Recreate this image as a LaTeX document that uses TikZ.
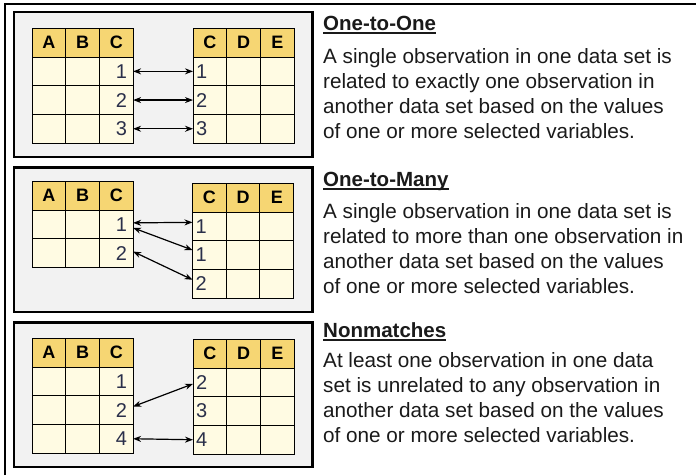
\documentclass[tikz,border=0pt]{standalone}
\usepackage{fontspec}
\setmainfont{Liberation Sans}
\usetikzlibrary{arrows.meta}
\definecolor{hdrfill}{HTML}{F6D673}
\definecolor{cellfill}{HTML}{FFFBE3}
\definecolor{panelfill}{HTML}{F2F2F2}
\definecolor{numcol}{HTML}{2A2F4A}
\definecolor{txtcol}{HTML}{1A1A1A}
\def\cw{33.7}
\def\hh{29}
\def\rh{28.7}
\tikzset{
  hdr/.style={rectangle, draw=black, line width=0.9pt, fill=hdrfill, anchor=north west,
    outer sep=0pt, inner sep=0pt, minimum width=\cw pt, minimum height=\hh pt,
    font=\fontsize{18}{18}\selectfont\bfseries},
  cellbox/.style={rectangle, draw=black, line width=0.9pt, fill=cellfill, anchor=north west,
    outer sep=0pt, inner xsep=3pt, inner ysep=0pt, text width={\cw pt-6pt}, minimum height=\rh pt,
    font=\fontsize{20}{20}\selectfont, text=numcol},
  numleft/.style={inner xsep=6pt, text width={\cw pt-12pt}, align=right},
  numright/.style={inner xsep=3pt, text width={\cw pt-6pt}, align=left},
  panel/.style={draw=black, line width=2.4pt, fill=panelfill},
  link/.style={draw=black, line width=1.2pt, {Stealth[length=8pt,width=6pt]}-{Stealth[length=8pt,width=6pt]}},
  ttl/.style={anchor=base west, inner sep=0pt, font=\fontsize{20.5}{25}\selectfont\bfseries, text=txtcol},
  body/.style={anchor=base west, inner sep=0pt, font=\fontsize{20.7}{25}\selectfont, text=txtcol},
  uline/.style={draw=txtcol, line width=1.6pt}
}
\newcommand{\lefttbl}[4]{%
  \foreach \h [count=\i] in {A,B,C}
    \node[hdr] (#1-h\i) at ({#2+(\i-1)*\cw},#3) {\h};
  \foreach \v [count=\j] in {#4} {
    \node[cellbox] (#1-\j-1) at (#2, {#3+\hh+(\j-1)*\rh}) {};
    \node[cellbox] (#1-\j-2) at ({#2+\cw}, {#3+\hh+(\j-1)*\rh}) {};
    \node[cellbox, numleft] (#1-\j-3) at ({#2+2*\cw}, {#3+\hh+(\j-1)*\rh}) {\v};
  }
}
\newcommand{\righttbl}[4]{%
  \foreach \h [count=\i] in {C,D,E}
    \node[hdr] (#1-h\i) at ({#2+(\i-1)*\cw},#3) {\h};
  \foreach \v [count=\j] in {#4} {
    \node[cellbox, numright] (#1-\j-1) at (#2, {#3+\hh+(\j-1)*\rh}) {\v};
    \node[cellbox] (#1-\j-2) at ({#2+\cw}, {#3+\hh+(\j-1)*\rh}) {};
    \node[cellbox] (#1-\j-3) at ({#2+2*\cw}, {#3+\hh+(\j-1)*\rh}) {};
  }
}
\begin{document}
\begin{tikzpicture}[x=1pt,y=-1pt]
\useasboundingbox (0,0) rectangle (696,475);
\fill[white] (0,0) rectangle (696,475);
% outer frame
\draw[line width=2pt] (4.5,475) -- (4.5,3.5) -- (696,3.5);
% panels
\draw[panel] (14,12) rectangle (312.5,157);
\draw[panel] (14,167.5) rectangle (312.5,312);
\draw[panel] (14,322.5) rectangle (312.5,467);

% ---- panel 1: one-to-one
\lefttbl{pa}{32}{28}{1,2,3}
\righttbl{pb}{193}{28}{1,2,3}
\foreach \k in {1,2,3}
  \draw[link] (pa-\k-3.east) -- (pb-\k-1.west);

% ---- panel 2: one-to-many
\lefttbl{qa}{32}{181}{1,2}
\righttbl{qb}{192.5}{183}{1,1,2}
\draw[link] ([yshift=1.5pt]qa-1-3.east) -- ([yshift=4pt]qb-1-1.west);
\draw[link] ([yshift=-3.5pt]qa-1-3.east) -- ([yshift=5pt]qb-2-1.west);
\draw[link] ([yshift=1.5pt]qa-2-3.east) -- ([yshift=4pt]qb-3-1.west);

% ---- panel 3: nonmatches
\lefttbl{ra}{32}{338}{1,2,4}
\righttbl{rb}{193}{339}{2,3,4}
\draw[link] ([yshift=3.5pt]ra-2-3.east) -- ([yshift=-1.5pt]rb-1-1.west);
\draw[link] (ra-3-3.east) -- (rb-3-1.west);

% ---- texts
\node[ttl] (t1) at (323,30) {One-to-One};
\draw[uline] ([yshift=-3pt]t1.base west) -- ([yshift=-3pt]t1.base east);
\node[body] (t1a) at (323,63) {A single observation in one data set is};
\node[body] (t1b) at (323,88) {related to exactly one observation in};
\node[body] (t1c) at (323,113) {another data set based on the values};
\node[body] (t1d) at (323,138) {of one or more selected variables.};

\node[ttl] (t2) at (323,186) {One-to-Many};
\draw[uline] ([yshift=-3pt]t2.base west) -- ([yshift=-3pt]t2.base east);
\node[body] (t2a) at (323,218) {A single observation in one data set is};
\node[body] (t2b) at (323,243) {related to more than one observation in};
\node[body] (t2c) at (323,268) {another data set based on the values};
\node[body] (t2d) at (323,293) {of one or more selected variables.};

\node[ttl] (t3) at (323,337) {Nonmatches};
\draw[uline] ([yshift=-3pt]t3.base west) -- ([yshift=-3pt]t3.base east);
\node[body] (t3a) at (323,367) {At least one observation in one data};
\node[body] (t3b) at (323,392) {set is unrelated to any observation in};
\node[body] (t3c) at (323,417) {another data set based on the values};
\node[body] (t3d) at (323,442) {of one or more selected variables.};
\end{tikzpicture}
\end{document}
